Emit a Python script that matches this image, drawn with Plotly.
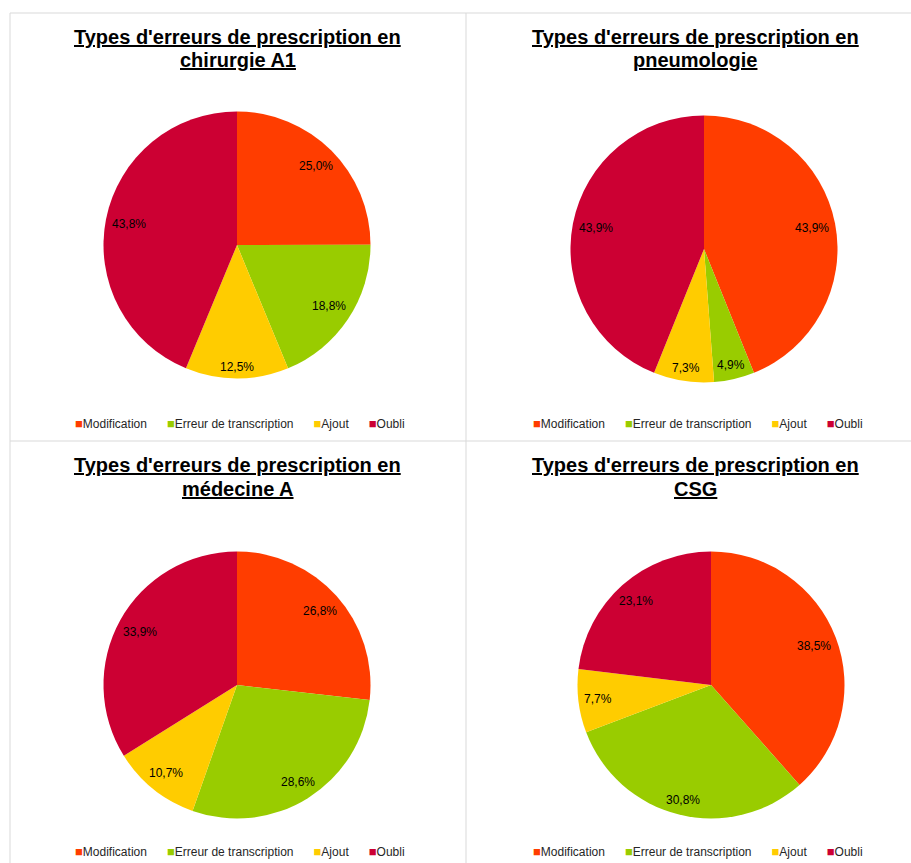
import math
import plotly.graph_objects as go

W, H = 911, 863

categories = ["Modification", "Erreur de transcription", "Ajout", "Oubli"]
colors = ["#FF3D00", "#99CC00", "#FFCC00", "#CC0033"]

title_line1 = "Types d'erreurs de prescription en"
services = ["chirurgie A1", "pneumologie", "médecine A", "CSG"]
chirurgie_a1 = [25.0, 18.8, 12.5, 43.8]
pneumologie = [43.9, 4.9, 7.3, 43.9]
medecine_a = [26.8, 28.6, 10.7, 33.9]
csg = [38.5, 30.8, 7.7, 23.1]
series = [chirurgie_a1, pneumologie, medecine_a, csg]

# layout (pixels) per panel: pie centre, radius, title centre, legend centre
pie_centers = [(237, 245), (704, 249), (237, 685), (711, 685)]
pie_r = 133.5
title_x = [237.5, 695, 237.5, 695]
title_y = [(37, 60), (37, 60), (465, 489), (465, 489)]
legend_pos = [(240.5, 423), (697.5, 423), (240.5, 851), (697.5, 851)]

FONT = "Arial, 'Liberation Sans', sans-serif"

def fx(px):
    return px / W

def fy(py):
    return 1 - py / H

def text_w(s, size=12):
    w = 0
    for ch in s:
        if ch.isdigit():
            w += 0.556
        elif ch == ",":
            w += 0.278
        elif ch == "%":
            w += 0.889
        else:
            w += 0.5
    return w * size

fig = go.Figure()
annotations = []

for i, vals in enumerate(series):
    cx, cy = pie_centers[i]
    fig.add_trace(go.Pie(
        labels=categories, values=vals, sort=False, direction="clockwise",
        rotation=0, textinfo="none", showlegend=False,
        marker=dict(colors=colors, line=dict(width=0)),
        domain=dict(x=[fx(cx - pie_r), fx(cx + pie_r)],
                    y=[fy(cy + pie_r), fy(cy - pie_r)]),
        hovertemplate="%{label}: %{value:.1f}%<extra></extra>",
    ))
    total = sum(vals)
    cum = 0.0
    for v in vals:
        mid = (cum + v / 2) / total
        cum += v
        th = 2 * math.pi * mid
        dx, dy = math.sin(th), -math.cos(th)
        label = f"{v:.1f}%".replace(".", ",")
        ext = text_w(label) / 2 * abs(dx) + 6 * abs(dy)
        d = 0.96 * pie_r - ext
        annotations.append(dict(
            x=fx(cx + d * dx), y=fy(cy + d * dy), xref="paper", yref="paper",
            text=label, showarrow=False, xanchor="center", yanchor="middle",
            font=dict(family=FONT, size=12, color="#000000"),
        ))
    for line, ly in zip([title_line1, services[i]], title_y[i]):
        annotations.append(dict(
            x=fx(title_x[i]), y=fy(ly), xref="paper", yref="paper",
            text="<b><u>" + line + "</u></b>",
            showarrow=False, xanchor="center", yanchor="middle",
            font=dict(family=FONT, size=20, color="#000000"),
        ))

    # legend row for this panel
    sep = "&nbsp;" * 6
    parts = [f'<span style="color:{c};font-size:13px">■</span>{n}'
             for n, c in zip(categories, colors)]
    lx, ly = legend_pos[i]
    annotations.append(dict(
        x=fx(lx), y=fy(ly), xref="paper", yref="paper",
        text=sep.join(parts), showarrow=False, xanchor="center", yanchor="middle",
        font=dict(family=FONT, size=12, color="#262626"),
    ))

grid = "#D9D9D9"
shapes = [
    dict(type="line", xref="paper", yref="paper", x0=fx(10), x1=1, y0=fy(13), y1=fy(13), line=dict(color=grid, width=1)),
    dict(type="line", xref="paper", yref="paper", x0=fx(10), x1=1, y0=fy(441), y1=fy(441), line=dict(color=grid, width=1)),
    dict(type="line", xref="paper", yref="paper", x0=fx(10), x1=fx(10), y0=fy(13), y1=0, line=dict(color=grid, width=1)),
    dict(type="line", xref="paper", yref="paper", x0=fx(466), x1=fx(466), y0=fy(13), y1=0, line=dict(color=grid, width=1)),
]

fig.update_layout(
    width=W, height=H, margin=dict(l=0, r=0, t=0, b=0),
    paper_bgcolor="white", plot_bgcolor="rgba(0,0,0,0)",
    showlegend=False,
    annotations=annotations, shapes=shapes,
    font=dict(family=FONT),
)

fig.write_html("out.html", config={"displayModeBar": False},
               post_script="document.body.style.margin='0';")
